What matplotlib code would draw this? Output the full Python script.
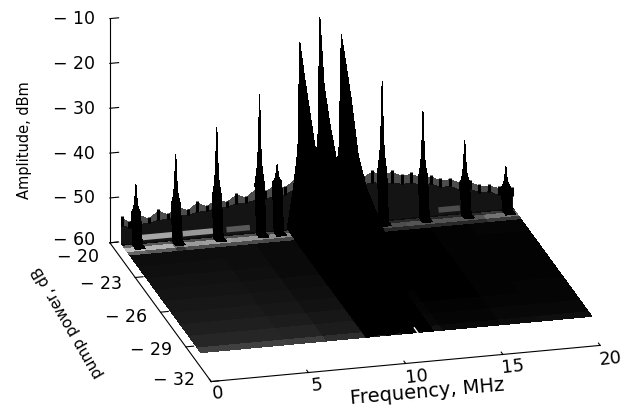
import numpy as np
import matplotlib
matplotlib.use('Agg')
import matplotlib.pyplot as plt

W, H = 634, 409

# axes ticks
freq_ticks = [0, 5, 10, 15, 20]
pump_ticks = [-20, -23, -26, -29, -32]
amp_ticks = [-10, -20, -30, -40, -50, -60]

floor_level = -60.5
data_pmax = -20.0

# top of the noise curtain along the back trace (-20 dB)
noise_freq = [0.6, 1.0, 1.5, 2.0, 2.5, 3.0, 3.5, 4.0, 4.5, 5.0, 5.5, 6.0, 6.5, 7.0,
              7.5, 8.0, 8.5, 9.0, 9.5, 10.0, 10.5, 11.0, 11.5, 12.0, 12.5, 13.0, 13.5,
              14.0, 14.5, 15.0, 15.5, 16.0, 16.5, 17.0, 17.5, 18.0, 18.5, 19.0, 19.5,
              20.0, 20.7]
noise_top = [-54.7, -56, -54.5, -55.5, -54, -55, -53.5, -54.5, -53, -54, -52.5, -53.5,
             -52, -52.8, -51.2, -52, -50.6, -51.5, -49.8, -50, -49.5, -49.5, -49.5,
             -49.6, -49.8, -50.8, -49.7, -50.6, -50.2, -51.2, -51, -52, -52, -53, -53,
             -54, -54, -55, -55.2, -56, -56.5]
noise_low = [-56.5, -57, -56.5, -56.5, -56, -56, -55.5, -55.5, -55, -55, -54.5, -54.5,
             -54, -54, -53.5, -53.5, -53, -53, -52, -52, -52, -52, -52, -52, -52, -52.5,
             -52, -52.5, -52.5, -53, -53, -53.5, -53.5, -54.5, -54.5, -55.5, -55.5,
             -56.5, -56.5, -57.5, -58]

# narrow comb lines at the back trace
side_freq = [1.34, 3.39, 5.5, 7.7, 8.6, 14.0, 16.1, 18.25, 20.36]
side_amp = [-47.6, -41.7, -36.4, -30.1, -46, -29.7, -37.3, -44.5, -51.1]
side_base = [-54, -53, -52, -50, -50, -50, -52, -54, -56]
side_rows = [-20, -20.2, -20.55]
side_offset = [-0.24, -0.12, -0.07, -0.03, 0, 0.03, 0.07, 0.12, 0.24]
side_share = [0, 0.2, 0.4, 0.75, 1, 0.75, 0.4, 0.2, 0]

# three strong lines, they run along the pump axis
ridge_freq = [9.77, 10.8, 11.9]
ridge_rows = [-20, -20.5, -21.2, -22, -23, -25, -27, -29.4]
ridge_left = [-19.3, -25, -32, -40, -45, -50, -55, -60]
ridge_mid = [-14.1, -28, -35, -41, -46, -50, -55, -60]
ridge_right = [-18.4, -23, -30, -40, -45, -49, -54, -60]
ridge_offset = [-0.65, -0.35, -0.1, -0.06, -0.02, 0, 0.02, 0.06, 0.1, 0.35, 0.65]
ridge_share = [0, 0.2, 0.42, 0.69, 0.9, 1, 0.9, 0.69, 0.42, 0.2, 0]

# grey level of the noise floor as seen from above
floor_f = [0.6, 3, 5, 7, 9, 11, 13, 16, 18, 20.7]
floor_p = [-20.8, -22, -23, -24, -25, -26, -27, -28, -29, -29.4]
floor_grey = [
    [.05, .05, .05, .04, .02, 0, 0, .01, .02],
    [.06, .06, .05, .04, .02, 0, 0, .01, .01],
    [.07, .07, .06, .04, .02, 0, 0, .01, .01],
    [.08, .08, .07, .05, .02, 0, 0, .01, .01],
    [.09, .09, .08, .06, .03, 0, 0, .01, .01],
    [.10, .10, .09, .07, .04, .01, 0, .01, .02],
    [.12, .12, .11, .09, .05, .02, .01, .02, .02],
    [.15, .15, .14, .11, .07, .03, .02, .03, .03],
    [.25, .25, .24, .18, .12, .07, .04, .05, .06],
]

# pale band just in front of the back trace
band_f = [0.6, 1.5, 3, 3.5, 4.5, 6, 7.5, 9.3, 13.5, 15, 17, 19, 20.7]
band_core = [.75, .7, .42, .6, .62, .58, .55, .05, .3, .33, .33, .45]
band_edge = [.4, .35, .2, .3, .3, .3, .28, .03, .15, .16, .16, .22]
band_p = [-20.2, -20.4, -20.75, -20.95]

# broken pale streak on the curtain
streak_start = [1.65, 3.75, 6.0, 16.9]
streak_end = [3.35, 5.3, 7.2, 18.0]
streak_grey = [.65, .6, .35, .3]
streak_level = -59.5

notch_f = [11.75, 11.75]
notch_p = [-29.4, -29.0]

plt.rcParams['font.family'] = 'DejaVu Sans'

fig = plt.figure(figsize=(W / 100, H / 100), dpi=100, facecolor='white')
side = 599
ax = fig.add_axes([47.4 / W, -80.6 / H, side / W, side / H], projection='3d',
                  proj_type='ortho', computed_zorder=False)
ax.set_box_aspect((1, 1, 0.597))
ax.view_init(elev=20.9, azim=-104.6)
ax.set_xlim(0, 20)
ax.set_ylim(-32, -20)
ax.set_zlim(-60, -10)
ax.set_axis_off()
ax.patch.set_alpha(0)


def flat_surface(xs, ys, zs, colors, z):
    rgb = np.array(colors)[..., None] * np.ones(3)
    ax.plot_surface(xs, ys, zs, facecolors=np.pad(rgb, ((0, 1), (0, 1), (0, 0)), mode='edge'),
                    rstride=1, cstride=1, shade=False, antialiased=False,
                    linewidth=0, zorder=z)


def spike(f0, rows, amp, base, offset, share, color, z):
    F = np.array([[f0 + o for o in offset] for r in rows])
    P = np.array([[r] * len(offset) for r in rows])
    Z = np.array([[b + (a - b) * s for s in share] for a, b in zip(amp, base)])
    ax.plot_surface(F, P, Z, color=color, shade=False, antialiased=False,
                    linewidth=0, rstride=1, cstride=1, zorder=z)


# floor
fx, py = np.meshgrid(floor_f, floor_p)
flat_surface(fx, py, np.full(fx.shape, floor_level), floor_grey, 1)
fx, py = np.meshgrid(floor_f, [data_pmax, floor_p[0]])
flat_surface(fx, py, np.full(fx.shape, floor_level), [[.05] * 9], 1)

# band
fx, py = np.meshgrid(band_f, band_p)
flat_surface(fx, py, np.full(fx.shape, floor_level), [band_edge, band_core, band_edge], 2)

# curtain
nf = np.array(noise_freq)
nt = np.array(noise_top)
nl = np.array(noise_low)
ax.plot_surface(np.array([nf, nf]), np.full((2, len(nf)), data_pmax),
                np.array([nl, nt]), color='0.3',
                shade=False, antialiased=False, linewidth=0, rstride=1, cstride=1, zorder=3)
ax.plot_surface(np.array([nf, nf]), np.full((2, len(nf)), data_pmax),
                np.array([np.full(len(nf), floor_level), nl]), color='0.08',
                shade=False, antialiased=False, linewidth=0, rstride=1, cstride=1, zorder=3)
for f0, top, low in zip(noise_freq, noise_top, noise_low):
    ax.plot([f0, f0], [data_pmax, data_pmax], [low, top + 0.5], color='k', lw=2.2,
            solid_capstyle='butt', zorder=3)
for a, b, g in zip(streak_start, streak_end, streak_grey):
    ax.plot([a, b], [data_pmax, data_pmax], [streak_level, streak_level], color=str(g),
            lw=4, solid_capstyle='butt', zorder=4)

# comb lines
for f0, a, b in zip(side_freq, side_amp, side_base):
    spike(f0, side_rows, [a, b, floor_level], [b, floor_level, floor_level],
          side_offset, side_share, 'black', 5)

# strong lines
for f0, amps in zip(ridge_freq, [ridge_left, ridge_mid, ridge_right]):
    spike(f0, ridge_rows, amps, [floor_level] * len(ridge_rows), ridge_offset, ridge_share,
          'black', 6)

ax.plot(notch_f, notch_p, [floor_level, floor_level], color='white', lw=1, zorder=7)

# hand drawn box edges and ticks
ax.plot([0, 0], [-20, -20], [-60, -10], color='k', lw=0.8, zorder=8)
ax.plot([0, 0], [-32, -20], [-60, -60], color='k', lw=0.8, zorder=8)
ax.plot([0, 20], [-32, -32], [-60, -60], color='k', lw=0.8, zorder=8)
for t in amp_ticks:
    ax.plot([0, 0.45], [-20, -20], [t, t], color='k', lw=0.8, zorder=8)
for t in pump_ticks:
    ax.plot([0, 0.4], [t, t], [-60, -60], color='k', lw=0.8, zorder=8)
for t in freq_ticks:
    ax.plot([t, t], [-32, -31.8], [-60, -60], color='k', lw=0.8, zorder=8)

# labels
amp_pos = [(74, 19), (74, 64), (74, 109), (74, 154), (74, 198), (74, 240)]
for t, (x, y) in zip(amp_ticks, amp_pos):
    fig.text(x / W, 1 - y / H, '\u2212 ' + str(-t), fontsize=12.5, ha='center', va='center')
pump_pos = [(78, 257), (101, 284), (126, 317), (151, 350), (174, 380)]
for t, (x, y) in zip(pump_ticks, pump_pos):
    fig.text(x / W, 1 - y / H, '\u2212 ' + str(-t), fontsize=12.5, ha='center', va='center')
freq_pos = [(218, 393), (317, 385), (417, 377), (513, 367), (610, 359)]
for t, (x, y) in zip(freq_ticks, freq_pos):
    fig.text(x / W, 1 - y / H, str(t), fontsize=13, ha='center', va='center', rotation=6)

fig.text(25 / W, 1 - 140 / H, 'Amplitude, dBm', fontsize=10.5, rotation=90, ha='center', va='center')
fig.text(68 / W, 1 - 322 / H, 'pump power, dB', fontsize=11, rotation=120, ha='center', va='center',
         rotation_mode='anchor')
fig.text(427 / W, 1 - 392 / H, 'Frequency, MHz', fontsize=14, rotation=5, ha='center', va='center',
         rotation_mode='anchor')

fig.savefig('out.png', dpi=100)
